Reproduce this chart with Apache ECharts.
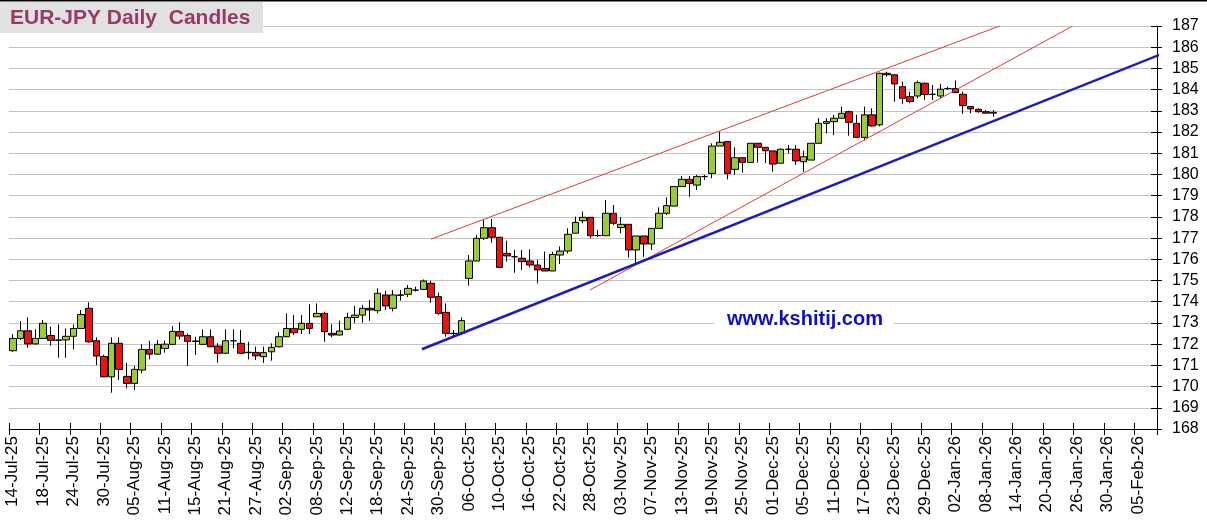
<!DOCTYPE html>
<html>
<head>
<meta charset="utf-8">
<title>EUR-JPY Daily Candles</title>
<script src="https://cdn.jsdelivr.net/npm/echarts@6/dist/echarts.min.js"></script>
<style>
  html, body { margin: 0; padding: 0; background: #fff; }
  #chart { width: 1207px; height: 532px; }
</style>
</head>
<body>
<div id="chart"></div>
<script type="text/javascript">
// daily candles, 14-Jul-25 .. 09-Jan-26 (one per weekday)
var opens = [
  171.69, 172.27, 172.63, 172.01, 172.27, 172.41, 172.20, 172.20, 172.37, 172.74,
  173.69, 172.16, 171.42, 170.46, 172.04, 170.48, 170.15, 170.78, 171.75, 171.53,
  171.80, 171.99, 172.60, 172.41, 172.15, 171.99, 172.35, 171.91, 171.57, 172.16,
  172.04, 171.62, 171.61, 171.41, 171.64, 171.88, 172.35, 172.74, 172.70, 172.98,
  173.29, 173.45, 172.51, 172.43, 172.70, 173.26, 173.37, 173.69, 173.58, 174.32,
  173.69, 174.30, 174.35, 174.55, 174.58, 174.87, 174.24, 173.50, 172.51, 172.51,
  175.10, 175.92, 176.99, 177.49, 177.04, 176.28, 176.12, 176.05, 175.92, 175.73,
  175.57, 175.45, 176.20, 176.39, 177.23, 177.82, 177.98, 177.12, 177.11, 178.17,
  177.50, 177.65, 176.44, 177.10, 176.72, 177.46, 178.17, 178.51, 179.43, 179.77,
  179.50, 179.90, 180.05, 181.34, 181.55, 180.24, 180.79, 180.57, 181.47, 181.28,
  181.11, 180.53, 181.19, 181.19, 180.60, 180.68, 181.47, 182.41, 182.49, 182.65,
  182.96, 182.41, 181.75, 182.81, 182.34, 184.77, 184.70, 184.14, 183.67, 183.70,
  184.30, 183.78, 183.70, 184.05, 184.05, 183.78, 183.20, 183.07, 182.96, 182.89
];
var closes = [
  172.27, 172.63, 172.01, 172.27, 172.98, 172.18, 172.18, 172.37, 172.74, 173.40,
  172.11, 171.44, 170.46, 172.04, 170.81, 170.15, 170.81, 171.75, 171.53, 171.99,
  172.00, 172.60, 172.38, 172.13, 172.13, 172.35, 171.88, 171.57, 172.16, 172.16,
  171.57, 171.60, 171.45, 171.60, 171.85, 172.35, 172.74, 172.54, 172.98, 172.74,
  173.45, 172.59, 172.43, 172.62, 173.26, 173.37, 173.69, 173.61, 174.40, 173.80,
  174.32, 174.32, 174.63, 174.55, 174.98, 174.21, 173.45, 172.51, 172.50, 173.11,
  175.92, 176.99, 177.49, 177.04, 175.62, 176.16, 176.12, 175.89, 175.73, 175.50,
  175.45, 176.23, 176.39, 177.18, 177.74, 177.98, 177.11, 177.12, 178.17, 177.70,
  177.65, 176.44, 177.10, 176.72, 177.46, 178.17, 178.53, 179.43, 179.77, 179.58,
  179.90, 179.90, 181.34, 181.52, 180.05, 180.79, 180.57, 181.47, 181.28, 181.12,
  180.49, 181.19, 181.19, 180.64, 180.84, 181.47, 182.41, 182.49, 182.65, 182.88,
  182.46, 181.75, 182.81, 182.29, 184.77, 184.70, 184.27, 183.59, 183.44, 184.33,
  183.77, 183.78, 184.02, 184.05, 183.86, 183.25, 183.09, 182.96, 182.89, 182.93
];
var lows = [
  171.64, 172.20, 171.83, 171.98, 172.25, 171.93, 171.36, 171.36, 171.75, 172.72,
  172.07, 171.01, 170.44, 169.71, 170.31, 169.91, 169.84, 170.62, 171.28, 171.50,
  171.60, 171.97, 172.22, 170.97, 171.49, 171.98, 171.85, 171.12, 171.55, 171.80,
  171.55, 171.28, 171.25, 171.12, 171.22, 171.85, 172.33, 172.43, 172.48, 172.48,
  173.29, 172.11, 172.32, 172.42, 172.67, 173.00, 173.01, 173.10, 173.45, 173.61,
  173.55, 174.05, 174.22, 174.48, 174.58, 173.95, 173.37, 172.35, 172.38, 172.43,
  174.76, 175.92, 176.91, 176.78, 175.62, 175.89, 175.37, 175.50, 175.62, 174.87,
  175.45, 175.45, 175.78, 176.28, 177.23, 177.70, 176.99, 177.04, 177.11, 177.62,
  177.22, 176.08, 175.73, 176.12, 176.44, 177.46, 178.09, 178.51, 179.43, 178.95,
  179.27, 179.74, 179.82, 181.34, 179.77, 179.98, 180.09, 180.57, 180.56, 180.53,
  180.13, 180.53, 180.99, 180.45, 180.13, 180.68, 181.47, 181.94, 181.86, 182.65,
  181.83, 181.75, 181.60, 182.26, 182.26, 184.62, 183.43, 183.33, 183.36, 183.59,
  183.51, 183.51, 183.59, 183.99, 183.86, 182.86, 182.89, 182.92, 182.89, 182.73
];
var highs = [
  172.48, 173.09, 173.26, 172.70, 173.14, 172.82, 172.93, 172.74, 172.93, 173.61,
  173.97, 172.32, 171.50, 172.32, 172.32, 171.12, 170.97, 171.99, 172.16, 172.19,
  172.16, 172.85, 173.03, 172.50, 172.35, 172.70, 172.70, 172.04, 172.70, 172.70,
  172.67, 172.11, 171.88, 171.88, 172.04, 172.56, 173.45, 173.37, 173.37, 173.88,
  173.92, 173.53, 172.93, 173.11, 173.48, 173.80, 173.85, 174.08, 174.63, 174.52,
  174.55, 174.55, 174.79, 174.71, 175.05, 174.99, 174.43, 173.92, 172.67, 173.26,
  176.20, 177.15, 177.85, 177.90, 177.04, 176.88, 176.44, 176.44, 176.47, 175.97,
  176.36, 176.36, 176.60, 177.46, 178.01, 178.25, 177.98, 177.38, 178.80, 178.56,
  177.98, 177.65, 177.10, 177.10, 177.46, 178.45, 178.92, 179.43, 179.93, 179.93,
  179.98, 179.98, 181.47, 182.02, 181.55, 181.28, 180.79, 181.47, 181.47, 181.28,
  181.11, 181.23, 181.39, 181.39, 181.12, 181.47, 182.65, 182.65, 182.81, 183.20,
  183.01, 182.81, 183.20, 183.12, 184.80, 184.85, 184.70, 184.38, 183.91, 184.43,
  184.33, 184.22, 184.27, 184.14, 184.43, 183.91, 183.20, 183.12, 183.04, 183.04
];

// trend lines as [day index, price]
var upperChannel = [[55.0, 176.95], [129.8, 187.0]];
var lowerChannel = [[75.9, 174.55], [139.4, 187.0]];
var supportLine = [[53.8, 171.76], [151.1, 185.68]];

var dayCount = 151;
var monthNames = ['Jan','Feb','Mar','Apr','May','Jun','Jul','Aug','Sep','Oct','Nov','Dec'];

function weekdayLabels(start, n) {
  var out = [];
  var d = new Date(start.getTime());
  while (out.length < n) {
    var wd = d.getUTCDay();
    if (wd !== 0 && wd !== 6) {
      var dd = d.getUTCDate();
      out.push((dd < 10 ? '0' + dd : '' + dd) + '-' + monthNames[d.getUTCMonth()] + '-' + (d.getUTCFullYear() % 100));
    }
    d.setUTCDate(d.getUTCDate() + 1);
  }
  return out;
}
var days = weekdayLabels(new Date(Date.UTC(2025, 6, 14)), dayCount);

var candles = [];
for (var i = 0; i < opens.length; i++) {
  candles.push([opens[i], closes[i], lows[i], highs[i]]);
}

var font = 'Liberation Sans, Arial, sans-serif';
var chart = echarts.init(document.getElementById('chart'));

chart.setOption({
  animation: false,
  backgroundColor: '#fff',
  grid: { left: 9, right: 50, top: 26, bottom: 103 },
  xAxis: [
    {
      type: 'category',
      data: days,
      boundaryGap: true,
      axisLine: { onZero: false, lineStyle: { color: '#000', width: 1 } },
      axisTick: { show: true, interval: 3, length: 6, lineStyle: { color: '#000' } },
      axisLabel: {
        interval: 3, rotate: 90, margin: 7,
        color: '#000', fontFamily: font, fontSize: 17
      },
      splitLine: { show: false }
    },
    {
      // inner half of the crossing ticks
      type: 'category',
      data: days,
      position: 'bottom',
      boundaryGap: true,
      axisLine: { show: false, onZero: false },
      axisTick: { show: true, inside: true, interval: 3, length: 6, lineStyle: { color: '#000' } },
      axisLabel: { show: false },
      splitLine: { show: false }
    },
    {
      type: 'value',
      min: -0.5,
      max: dayCount - 0.5,
      show: false
    }
  ],
  yAxis: [
    {
      type: 'value',
      position: 'right',
      min: 168, max: 187, interval: 1,
      axisLine: { show: true, onZero: false, lineStyle: { color: '#000', width: 1 } },
      axisTick: { show: true, length: 5, lineStyle: { color: '#000' } },
      axisLabel: { margin: 15, color: '#000', fontFamily: font, fontSize: 16 },
      splitLine: { show: true, lineStyle: { color: '#c4c4c4', width: 1 } }
    },
    {
      type: 'value',
      position: 'right',
      min: 168, max: 187, interval: 1,
      axisLine: { show: false, onZero: false },
      axisTick: { show: true, inside: true, length: 6, lineStyle: { color: '#000' } },
      axisLabel: { show: false },
      splitLine: { show: false }
    }
  ],
  series: [
    {
      type: 'candlestick',
      data: candles,
      barWidth: 7,
      itemStyle: {
        color: '#9bcc33',
        color0: '#ee1111',
        borderColor: '#000',
        borderColor0: '#000',
        borderColorDoji: '#000',
        borderWidth: 1
      },
      silent: true
    },
    {
      type: 'line', xAxisIndex: 2, data: upperChannel,
      symbol: 'none', silent: true,
      lineStyle: { color: '#e23a3a', width: 1 }
    },
    {
      type: 'line', xAxisIndex: 2, data: lowerChannel,
      symbol: 'none', silent: true,
      lineStyle: { color: '#e23a3a', width: 1 }
    },
    {
      type: 'line', xAxisIndex: 2, data: supportLine,
      symbol: 'none', silent: true, clip: false,
      lineStyle: { color: '#1b1bc4', width: 2.5 }
    }
  ],
  graphic: [
    { type: 'line', z: 100, shape: { x1: 0, y1: 0.5, x2: 1207, y2: 0.5 }, style: { stroke: '#000', lineWidth: 2 } },
    { type: 'rect', z: 100, shape: { x: 0, y: 2, width: 263, height: 31 }, style: { fill: '#e1e1e1' } },
    {
      type: 'text', z: 101, x: 10, y: 18,
      style: { text: 'EUR-JPY Daily  Candles', fill: '#963a68', font: 'bold 21px ' + font, textVerticalAlign: 'middle' }
    },
    { type: 'rect', z: 100, shape: { x: 714, y: 308, width: 180, height: 22 }, style: { fill: '#fff' } },
    {
      type: 'text', z: 101, x: 727, y: 319,
      style: { text: 'www.kshitij.com', fill: '#0f0fc4', font: 'bold 20px ' + font, textVerticalAlign: 'middle' }
    }
  ]
});
</script>
</body>
</html>
